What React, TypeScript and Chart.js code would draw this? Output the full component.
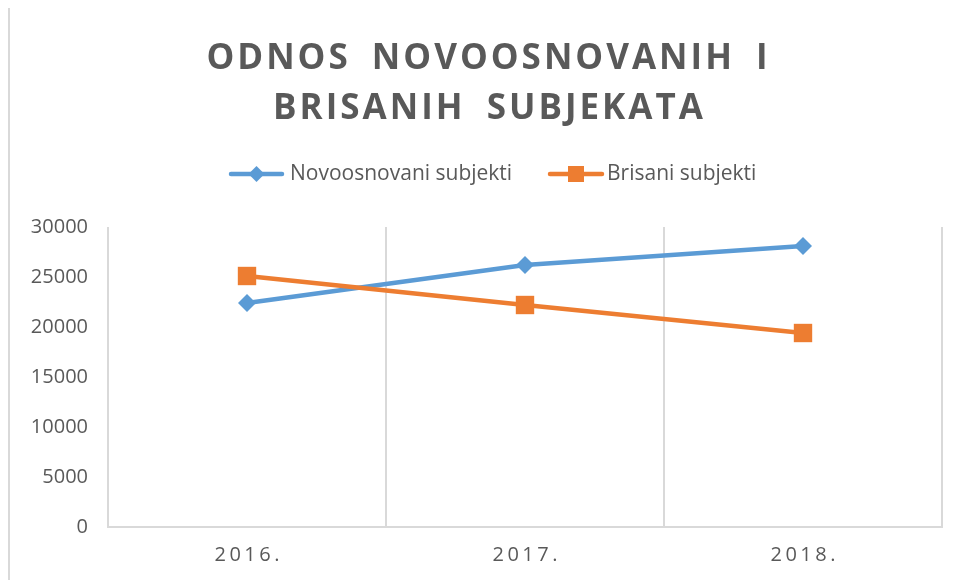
import React, { useEffect, useRef } from "react";
import { Chart, registerables } from "chart.js";

Chart.register(...registerables);

const categories = ["2016.", "2017.", "2018."];
const novoosnovani = [22400, 26200, 28100];
const brisani = [25100, 22200, 19400];
const yTicks = [0, 5000, 10000, 15000, 20000, 25000, 30000];
const titleLines = ["ODNOS NOVOOSNOVANIH I", "BRISANIH SUBJEKATA"];
const seriesNames = ["Novoosnovani subjekti", "Brisani subjekti"];

const BLUE = "#5B9BD5";
const ORANGE = "#ED7D31";
const TEXT = "#595959";
const GRID = "#d9d9d9";
const FONT = "'Open Sans', sans-serif";

function spacedText(ctx: CanvasRenderingContext2D, text: string, cx: number, y: number, ls: number, extraWord = 0) {
  const words = text.split(" ");
  (ctx as any).letterSpacing = ls + "px";
  const widths = words.map((w) => ctx.measureText(w).width);
  (ctx as any).letterSpacing = "0px";
  const spaceW = ctx.measureText(" ").width + extraWord;
  const total = widths.reduce((a, b) => a + b, 0) + spaceW * (words.length - 1) - ls;
  let x = cx - total / 2;
  ctx.textAlign = "left";
  (ctx as any).letterSpacing = ls + "px";
  words.forEach((w, i) => {
    ctx.fillText(w, x, y);
    x += widths[i] + spaceW;
  });
  (ctx as any).letterSpacing = "0px";
}

const customDraw = {
  id: "customDraw",
  afterDraw(chart: any) {
    const ctx: CanvasRenderingContext2D = chart.ctx;
    ctx.save();
    ctx.fillStyle = TEXT;
    ctx.textBaseline = "middle";
    // title
    ctx.font = `bold 35px ${FONT}`;
    spacedText(ctx, titleLines[0], 477, 51, 3, 12);
    spacedText(ctx, titleLines[1], 478, 101, 3, 12);
    // x labels
    ctx.font = `20px ${FONT}`;
    const xs = chart.scales.x;
    categories.forEach((c, i) => {
      spacedText(ctx, c, xs.getPixelForValue(i), chart.chartArea.bottom + 28, 3.5);
    });
    // legend
    const items = [
      { name: seriesNames[0], color: BLUE, style: "rectRot", x1: 221, x2: 272, tx: 280 },
      { name: seriesNames[1], color: ORANGE, style: "rect", x1: 540, x2: 592, tx: 597 },
    ];
    const ly = 166;
    items.forEach((it) => {
      ctx.strokeStyle = it.color;
      ctx.lineWidth = 4.5;
      ctx.lineCap = "round";
      ctx.beginPath();
      ctx.moveTo(it.x1, ly);
      ctx.lineTo(it.x2, ly);
      ctx.stroke();
      ctx.fillStyle = it.color;
      const mx = (it.x1 + it.x2) / 2;
      if (it.style === "rectRot") {
        const r = 8;
        ctx.beginPath();
        ctx.moveTo(mx - r, ly);
        ctx.lineTo(mx, ly - r);
        ctx.lineTo(mx + r, ly);
        ctx.lineTo(mx, ly + r);
        ctx.closePath();
        ctx.fill();
      } else {
        const s = 8;
        ctx.fillRect(mx - s, ly - s, 2 * s, 2 * s);
      }
      ctx.fillStyle = TEXT;
      ctx.font = `21px ${FONT}`;
      ctx.textAlign = "left";
      ctx.fillText(it.name, it.tx, ly);
    });
    ctx.restore();
  },
};

export default function App() {
  const ref = useRef<HTMLCanvasElement>(null);
  useEffect(() => {
    if (!ref.current) return;
    const chart = new Chart(ref.current, {
      type: "line",
      data: {
        labels: categories,
        datasets: [
          {
            label: seriesNames[0],
            data: novoosnovani,
            borderColor: BLUE,
            backgroundColor: BLUE,
            borderWidth: 4.5,
            pointStyle: "rectRot",
            pointRadius: 9,
            pointHoverRadius: 9,
            pointBorderWidth: 0,
            tension: 0,
            order: 1,
          },
          {
            label: seriesNames[1],
            data: brisani,
            borderColor: ORANGE,
            backgroundColor: ORANGE,
            borderWidth: 4.5,
            pointStyle: "rect",
            pointRadius: 13,
            pointHoverRadius: 13,
            pointBorderWidth: 0,
            tension: 0,
            order: 0,
          },
        ],
      },
      options: {
        responsive: false,
        animation: false,
        layout: { padding: { top: 219, right: 17, left: 0, bottom: 0 } },
        plugins: {
          legend: { display: false },
          title: { display: false },
          tooltip: { enabled: false },
        },
        scales: {
          x: {
            type: "category",
            offset: true,
            grid: { display: true, color: GRID, lineWidth: 2, drawTicks: false, offset: true },
            border: { display: true, color: GRID, width: 2 },
            ticks: { color: "rgba(0,0,0,0)", font: { family: FONT, size: 20 }, padding: 0 },
            afterFit: (s: any) => {
              s.height = 53;
            },
          },
          y: {
            min: 0,
            max: 30000,
            afterBuildTicks: (s: any) => {
              s.ticks = yTicks.map((v) => ({ value: v }));
            },
            grid: { display: false, drawTicks: false },
            border: { display: false },
            ticks: {
              color: TEXT,
              font: { family: FONT, size: 20 },
              padding: 20,
              callback: (v: any) => String(v),
            },
            afterFit: (s: any) => {
              s.width = 98;
            },
          },
        },
      },
      plugins: [customDraw],
    });
    return () => chart.destroy();
  }, []);
  return (
    <div
      style={{
        marginTop: -2,
        width: 951,
        height: 574,
        borderLeft: `2px solid ${GRID}`,
        borderTop: `2px solid ${GRID}`,
        boxSizing: "border-box",
        background: "#fff",
      }}
    >
      <canvas ref={ref} width={949} height={572} style={{ display: "block", width: 949, height: 572 }} />
    </div>
  );
}
